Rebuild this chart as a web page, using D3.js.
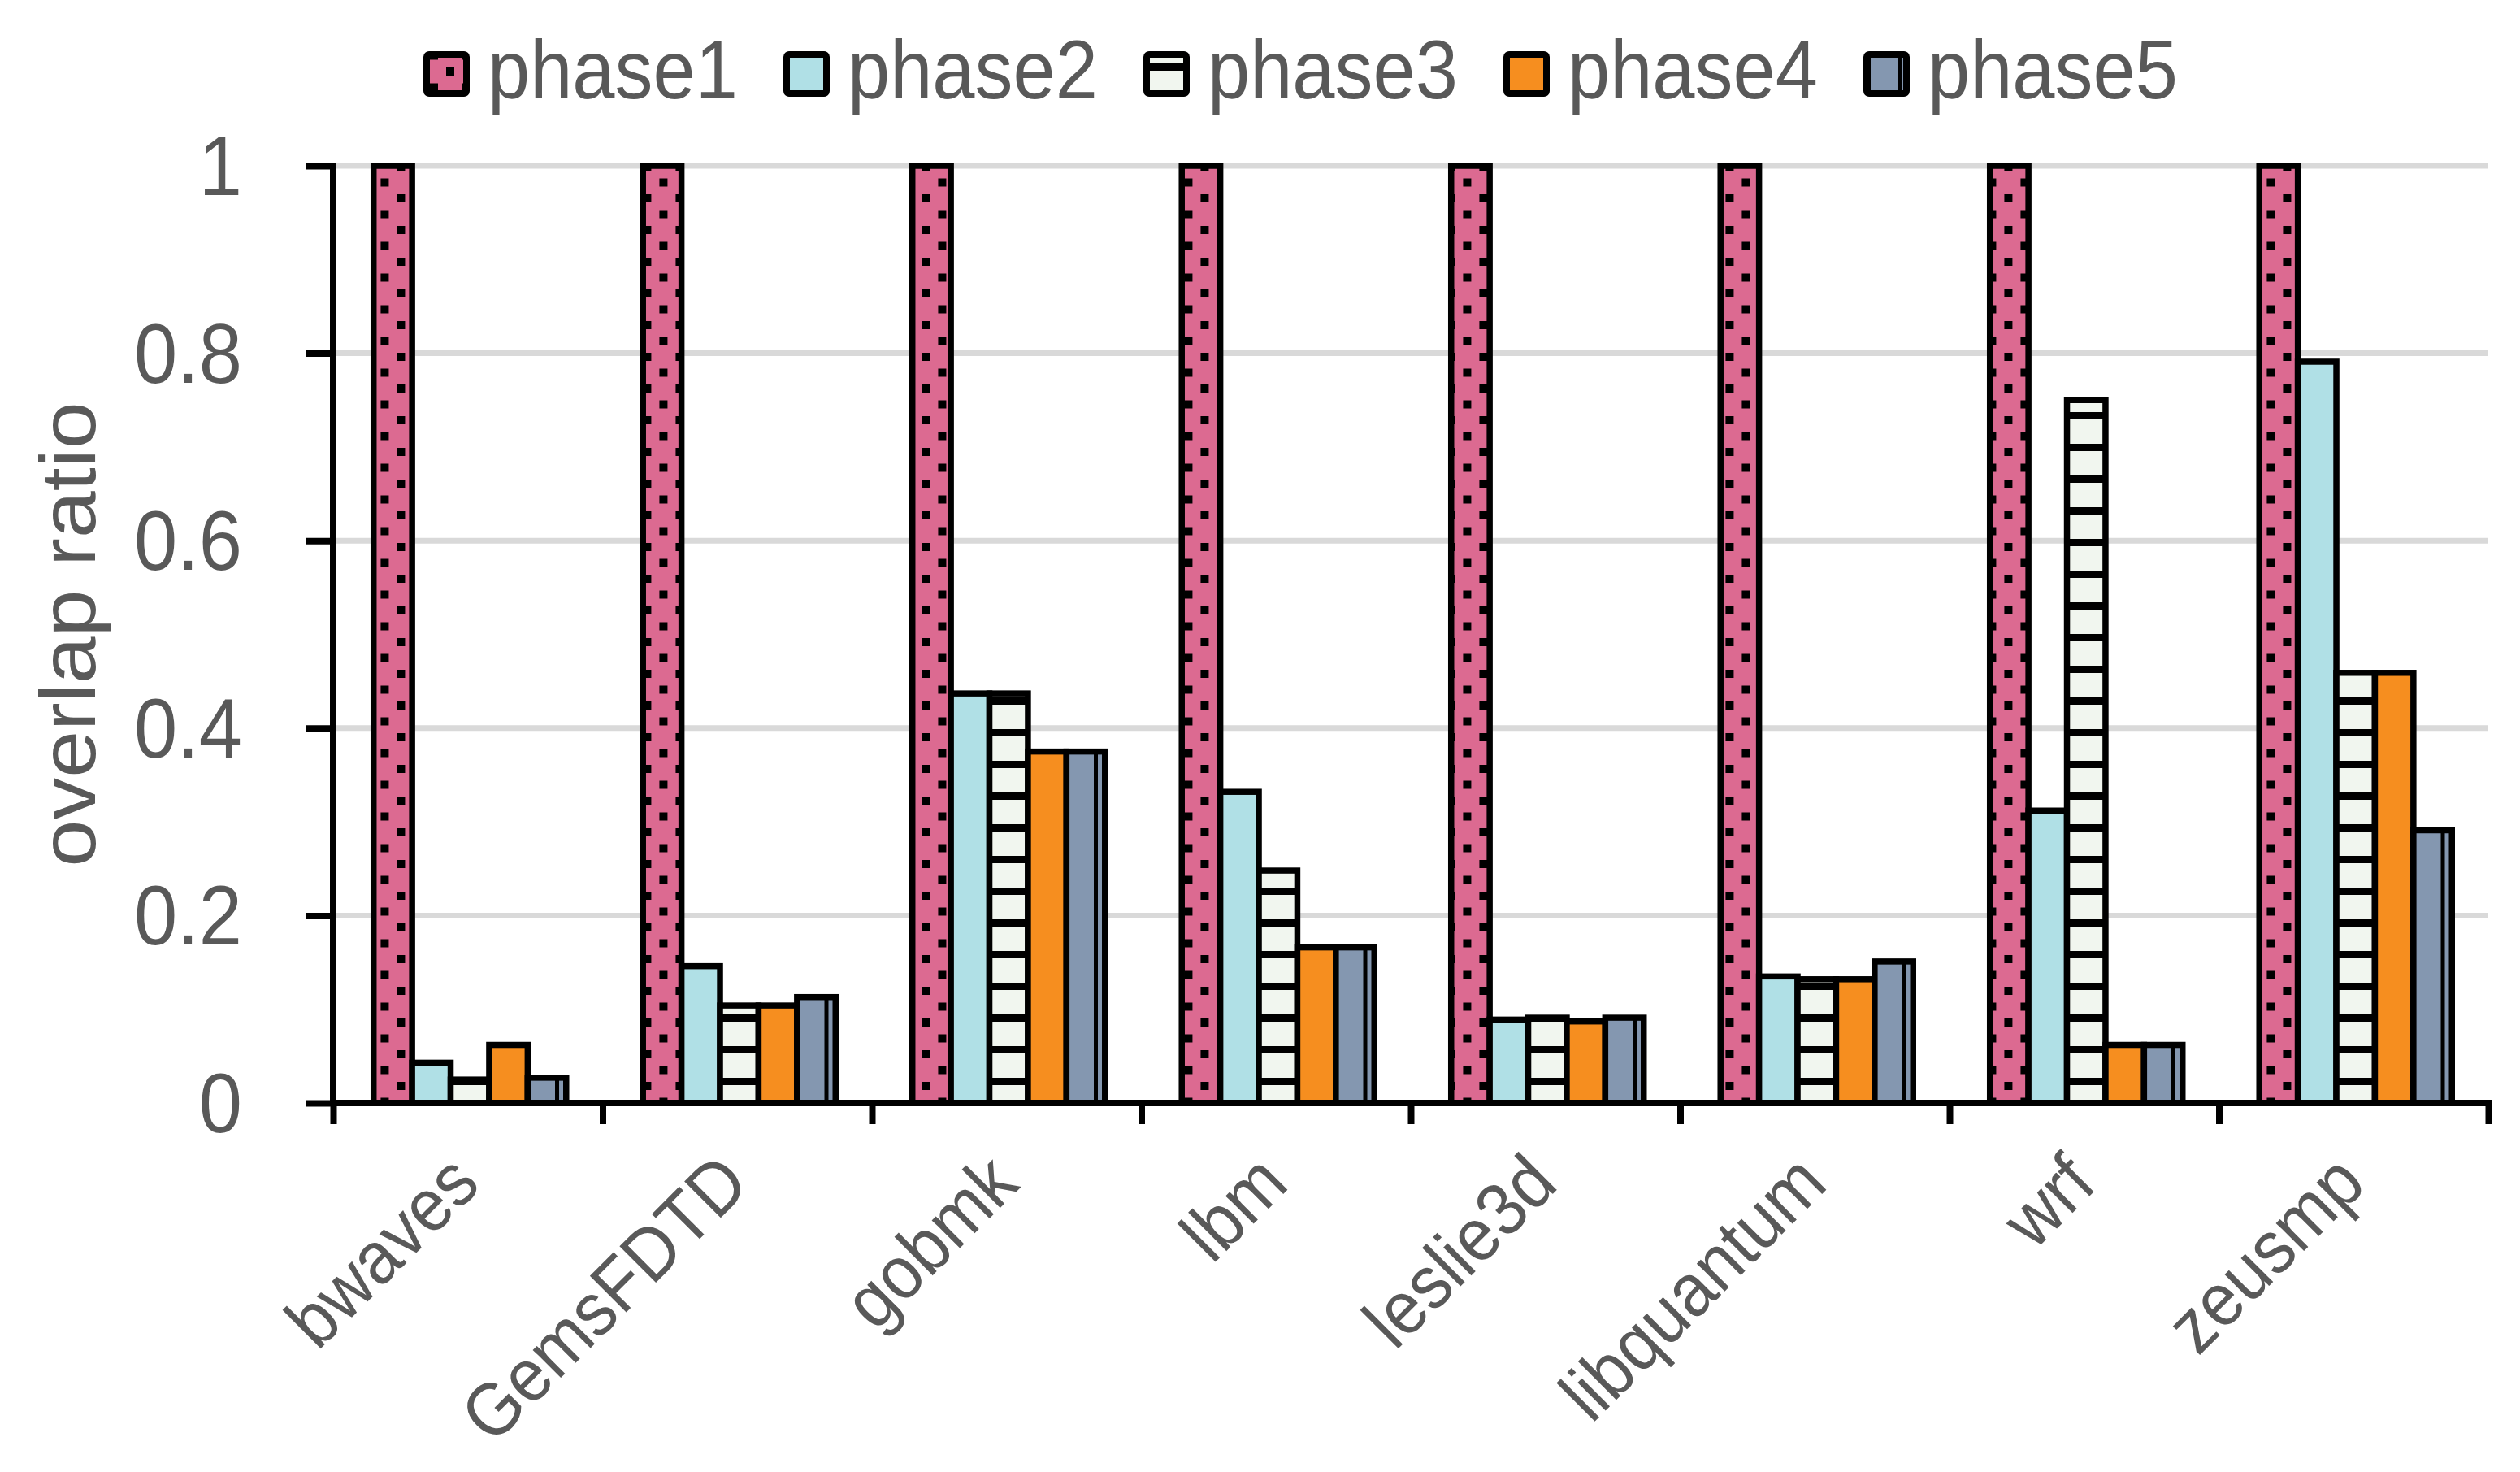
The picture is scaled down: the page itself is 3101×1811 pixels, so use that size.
<!DOCTYPE html>
<html>
<head>
<meta charset="utf-8">
<script src="https://cdn.jsdelivr.net/npm/d3@7"></script>
<style>
  body { margin: 0; background: #fff; }
  text { font-family: "Liberation Sans", Arial, sans-serif; fill: #595959; }
</style>
</head>
<body>
<div id="container"></div>
<script>
// chart data
const categories = ['bwaves', 'GemsFDTD', 'gobmk', 'lbm', 'leslie3d', 'libquantum', 'wrf', 'zeusmp'];
const phases = ['phase1', 'phase2', 'phase3', 'phase4', 'phase5'];
const phase1 = [1, 1, 1, 1, 1, 1, 1, 1];
const phase2 = [0.043, 0.146, 0.437, 0.332, 0.089, 0.135, 0.312, 0.791];
const phase3 = [0.025, 0.104, 0.437, 0.248, 0.091, 0.132, 0.750, 0.459];
const phase4 = [0.062, 0.104, 0.375, 0.166, 0.087, 0.132, 0.062, 0.459];
const phase5 = [0.027, 0.113, 0.375, 0.166, 0.091, 0.151, 0.062, 0.291];
const yTicks = [0, 0.2, 0.4, 0.6, 0.8, 1];

const series = [phase1, phase2, phase3, phase4, phase5];

// svg dimensions
const w = 3101;
const h = 1811;
const pL = 410, pR = 3062, pT = 204, pB = 1357;
const squish = 0.92;

const svg = d3.select('#container')
    .append('svg')
    .attr('width', w)
    .attr('height', h);

const defs = svg.append('defs');

// scales
const x0 = d3.scaleBand()
    .domain(categories)
    .range([pL, pR])
    .padding(0);

const x1 = d3.scaleBand()
    .domain(phases)
    .range([x0.bandwidth() * 0.15, x0.bandwidth() * 0.865])
    .padding(0);

const y = d3.scaleLinear()
    .domain([0, 1])
    .range([pB, pT]);

// patterns
const pink = '#DC6A91';

// phase1 dots, one pattern per category so the dots sit on the bar centre
function dotPattern(id, cx) {
    const p = defs.append('pattern')
        .attr('id', id)
        .attr('patternUnits', 'userSpaceOnUse')
        .attr('x', cx - 10)
        .attr('y', 0)
        .attr('width', 40)
        .attr('height', 39);
    p.append('rect').attr('width', 40).attr('height', 39).attr('fill', pink);
    p.append('rect').attr('x', 5).attr('y', 5).attr('width', 10).attr('height', 10).attr('fill', '#000');
    p.append('rect').attr('x', 25).attr('y', 24.5).attr('width', 10).attr('height', 10).attr('fill', '#000');
}
categories.forEach((c, i) => dotPattern('dots' + i, x0(c) + x1('phase1') + x1.bandwidth() / 2));
dotPattern('dotsLegend', 549);

const stripes = defs.append('pattern')
    .attr('id', 'stripes')
    .attr('patternUnits', 'userSpaceOnUse')
    .attr('width', 40)
    .attr('height', 39);
stripes.append('rect').attr('width', 40).attr('height', 39).attr('fill', '#F1F6EF');
stripes.append('rect').attr('y', 0).attr('width', 40).attr('height', 9).attr('fill', '#000');

const vlines = defs.append('pattern')
    .attr('id', 'vlines')
    .attr('patternUnits', 'userSpaceOnUse')
    .attr('width', 39)
    .attr('height', 40);
vlines.append('rect').attr('width', 39).attr('height', 40).attr('fill', '#8497B0');
vlines.append('rect').attr('x', 0).attr('width', 5).attr('height', 40).attr('fill', '#000');

function fillFor(k, i) {
    if (k === 0) return `url(#dots${i})`;
    if (k === 1) return '#B0E0E6';
    if (k === 2) return 'url(#stripes)';
    if (k === 3) return '#F68E1F';
    return 'url(#vlines)';
}

// gridlines
svg.append('g')
    .selectAll('line')
    .data(yTicks.filter(t => t > 0))
    .join('line')
    .attr('x1', pL)
    .attr('x2', pR)
    .attr('y1', d => y(d))
    .attr('y2', d => y(d))
    .attr('stroke', '#D9D9D9')
    .attr('stroke-width', 7);

// bars
const groups = svg.append('g')
    .selectAll('g')
    .data(categories)
    .join('g')
    .attr('transform', d => `translate(${x0(d)},0)`);

groups.selectAll('rect')
    .data((d, i) => series.map((s, k) => ({ k: k, i: i, v: s[i] })))
    .join('rect')
    .attr('x', d => x1(phases[d.k]))
    .attr('y', d => y(d.v))
    .attr('width', x1.bandwidth())
    .attr('height', d => y(0) - y(d.v))
    .attr('fill', d => fillFor(d.k, d.i))
    .attr('stroke', '#000')
    .attr('stroke-width', 7.5);

// axes
const yAxis = svg.append('g')
    .attr('transform', `translate(${pL},0)`)
    .call(d3.axisLeft(y).tickValues(yTicks).tickSize(33).tickFormat(''));

const xAxis = svg.append('g')
    .attr('transform', `translate(0,${pB})`)
    .call(d3.axisBottom(d3.scaleLinear().domain([0, categories.length]).range([pL, pR]))
        .ticks(categories.length).tickSize(26).tickFormat(''));

[yAxis, xAxis].forEach(a => {
    a.selectAll('path').remove();
    a.selectAll('line').attr('stroke', '#000').attr('stroke-width', 8);
});
yAxis.append('line').attr('x1', 0).attr('x2', 0).attr('y1', pT - 4).attr('y2', pB + 4)
    .attr('stroke', '#000').attr('stroke-width', 8);
xAxis.append('line').attr('x1', pL - 4).attr('x2', pR + 4).attr('y1', 0).attr('y2', 0)
    .attr('stroke', '#000').attr('stroke-width', 8);

// y tick labels
svg.append('g')
    .selectAll('text')
    .data(yTicks)
    .join('text')
    .attr('transform', d => `translate(298,${y(d) + 36}) scale(${squish},1)`)
    .attr('text-anchor', 'end')
    .style('font-size', '104px')
    .text(d => d3.format('~g')(d));

// x tick labels
svg.append('g')
    .selectAll('text')
    .data(categories)
    .join('text')
    .attr('transform', d => `translate(${x0(d) + x0.bandwidth() / 2 + 18},${pB + 103}) rotate(-45) scale(${squish},1)`)
    .attr('text-anchor', 'end')
    .style('font-size', '92px')
    .text(d => d);

// y axis title
svg.append('text')
    .attr('transform', `translate(117,${(pT + pB) / 2}) scale(${squish},1) rotate(-90)`)
    .attr('text-anchor', 'middle')
    .style('font-size', '104px')
    .text('overlap ratio');

// legend
const legend = svg.append('g')
    .selectAll('g')
    .data(phases)
    .join('g')
    .attr('transform', (d, i) => `translate(${525 + i * 443},0)`);

legend.append('rect')
    .attr('x', 0)
    .attr('y', 67)
    .attr('width', 49)
    .attr('height', 48)
    .attr('rx', 3)
    .attr('fill', (d, k) => k === 0 ? 'url(#dotsLegend)' : fillFor(k, 0))
    .attr('stroke', '#000')
    .attr('stroke-width', 8);

legend.append('text')
    .attr('transform', `translate(75,121) scale(${squish},1)`)
    .style('font-size', '102px')
    .text(d => d);
</script>
</body>
</html>
